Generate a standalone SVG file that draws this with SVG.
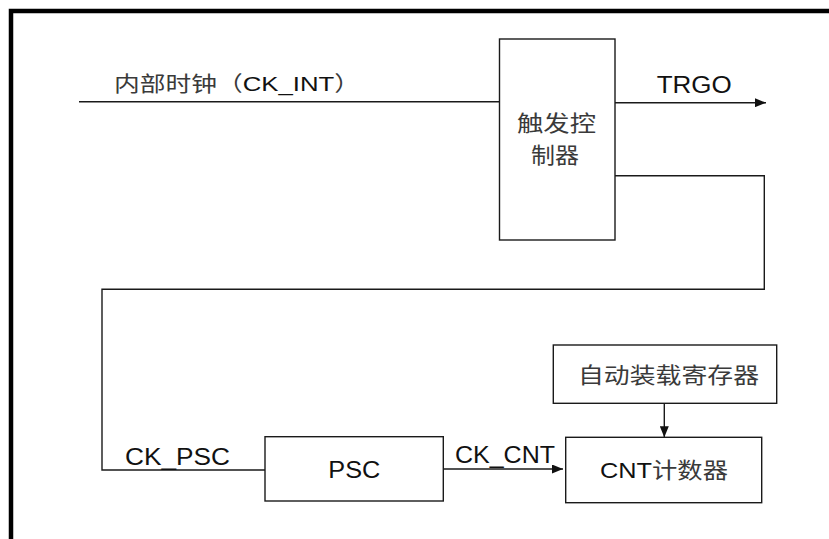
<svg xmlns="http://www.w3.org/2000/svg" width="829" height="539" viewBox="0 0 829 539">
<style>
.ln{fill:none;stroke:#1a1a1a;stroke-width:1.4}
.box{fill:#fff;stroke:#1a1a1a;stroke-width:1.4}
.t{font-family:"Liberation Sans","Noto Sans CJK SC",sans-serif;fill:#111}
.c{font-family:"Noto Sans CJK SC","Liberation Sans",sans-serif;fill:#3a3a3a}
</style>
<defs>
<marker id="ah" viewBox="0 0 11 9" refX="11" refY="4.5" markerWidth="11" markerHeight="9" markerUnits="userSpaceOnUse" orient="auto">
<path d="M0,0 L11,4.5 L0,9 Z" fill="#111"/>
</marker>
</defs>
<rect width="829" height="539" fill="#fff"/>
<path d="M11,539 V11 H829" fill="none" stroke="#000" stroke-width="4.5"/>
<g id="connectors">
<path class="ln" d="M79,101.7 H499.5"/>
<path class="ln" d="M615,102.7 H766" marker-end="url(#ah)"/>
<path class="ln" d="M615,175.7 H764.3 V289.3 H102 V470 H265"/>
<path class="ln" d="M443.3,469 H563" marker-end="url(#ah)"/>
<path class="ln" d="M664.3,403.3 V437.3" marker-end="url(#ah)"/>
<text class="t" x="114" y="91" font-size="21" textLength="246" lengthAdjust="spacingAndGlyphs"><tspan class="c">内部时钟（</tspan>CK_INT<tspan class="c">）</tspan></text>
<text class="t" x="656.7" y="93" font-size="23" textLength="75" lengthAdjust="spacingAndGlyphs">TRGO</text>
<text class="t" x="125" y="465" font-size="23" textLength="105" lengthAdjust="spacingAndGlyphs">CK_PSC</text>
<text class="t" x="455" y="463" font-size="23" textLength="100" lengthAdjust="spacingAndGlyphs">CK_CNT</text>
</g>
<g id="trigger">
<rect class="box" x="499.5" y="39" width="115.5" height="201"/>
<text class="c" x="517" y="131" font-size="22" textLength="79" lengthAdjust="spacingAndGlyphs">触发控</text>
<text class="c" x="531" y="163" font-size="22" textLength="48" lengthAdjust="spacingAndGlyphs">制器</text>
</g>
<g id="psc">
<rect class="box" x="265" y="436.7" width="178.3" height="64.3"/>
<text class="t" x="328.3" y="478.3" font-size="23" textLength="52" lengthAdjust="spacingAndGlyphs">PSC</text>
</g>
<g id="arr">
<rect class="box" x="553.3" y="345" width="223.4" height="58.3"/>
<text class="c" x="578" y="383" font-size="22" textLength="181" lengthAdjust="spacingAndGlyphs">自动装载寄存器</text>
</g>
<g id="cnt">
<rect class="box" x="565.7" y="437.3" width="196" height="65.4"/>
<text class="t" x="600" y="478.3" font-size="22" textLength="128" lengthAdjust="spacingAndGlyphs">CNT<tspan class="c">计数器</tspan></text>
</g>
</svg>
